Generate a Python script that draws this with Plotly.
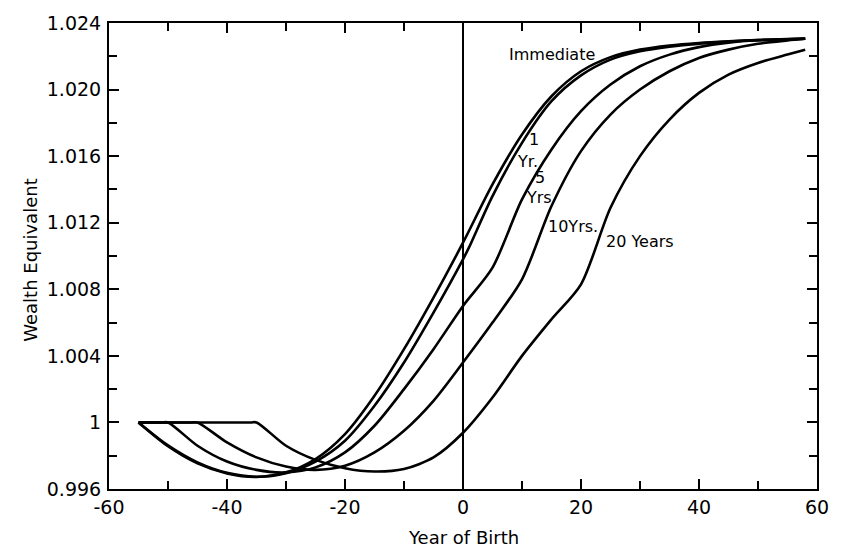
import plotly.graph_objects as go

# ---- data ----
imm_years = [-55, -50, -45, -40, -35, -30, -25, -20, -15, -10, -5, 0, 5, 10, 15, 20, 25, 30, 35, 40, 45, 50, 55, 58]
imm_vals = [1.0, 0.99857, 0.99754, 0.99693, 0.99672, 0.99700, 0.99780, 0.99930, 1.00160, 1.00440, 1.00750, 1.01080,
            1.01430, 1.01730, 1.01960, 1.02110, 1.02195, 1.02240, 1.02265, 1.02280, 1.02290, 1.02298, 1.02303, 1.02306]

y1_years = [-55, -50, -45, -40, -35, -30, -25, -20, -15, -10, -5, 0, 1, 5, 10, 15, 20, 25, 30, 35, 40, 45, 50, 55, 58]
y1_vals = [1.0, 0.99862, 0.99760, 0.99697, 0.99674, 0.99695, 0.99765, 0.99890, 1.00100, 1.00360, 1.00660, 1.00980,
           1.01050, 1.01360, 1.01680, 1.01930, 1.02085, 1.02180, 1.02230, 1.02258, 1.02275, 1.02288, 1.02297, 1.02302, 1.02305]

y5_years = [-55, -51, -50, -45, -40, -35, -30, -25, -20, -15, -10, -5, 0, 5, 10, 15, 20, 25, 30, 35, 40, 45, 50, 55, 58]
y5_vals = [1.0, 1.0, 1.0, 0.99860, 0.99765, 0.99715, 0.99700, 0.99730, 0.99820, 0.99980, 1.00200, 1.00440, 1.00700,
           1.00930, 1.01340, 1.01640, 1.01870, 1.02030, 1.02140, 1.02210, 1.02255, 1.02282, 1.02296, 1.02302, 1.02305]

y10_years = [-55, -46, -45, -40, -35, -30, -25, -20, -15, -10, -5, 0, 5, 10, 15, 20, 25, 30, 35, 40, 45, 50, 55, 58]
y10_vals = [1.0, 1.0, 1.0, 0.99880, 0.99790, 0.99735, 0.99715, 0.99740, 0.99820, 0.99950, 1.00130, 1.00360, 1.00600,
            1.00860, 1.01300, 1.01630, 1.01850, 1.02000, 1.02110, 1.02190, 1.02240, 1.02275, 1.02295, 1.02305]

y20_years = [-55, -36, -35, -30, -25, -20, -15, -10, -5, 0, 5, 10, 15, 20, 25, 30, 35, 40, 45, 50, 55, 58]
y20_vals = [1.0, 1.0, 1.0, 0.99860, 0.99775, 0.99725, 0.99705, 0.99720, 0.99790, 0.99938, 1.00150, 1.00400, 1.00620,
            1.00830, 1.01290, 1.01600, 1.01820, 1.01980, 1.02090, 1.02160, 1.02210, 1.02240]

series = [
    ("Immediate", imm_years, imm_vals),
    ("1 Yr.", y1_years, y1_vals),
    ("5 Yrs.", y5_years, y5_vals),
    ("10 Yrs.", y10_years, y10_vals),
    ("20 Years", y20_years, y20_vals),
]

y_tickvals = [0.996, 1.0, 1.004, 1.008, 1.012, 1.016, 1.020, 1.024]
y_ticktext = ["0.996", "1", "1.004", "1.008", "1.012", "1.016", "1.020", "1.024"]
x_tickvals = [-60, -40, -20, 0, 20, 40, 60]
x_ticktext = ["-60", "-40", "-20", "0", "20", "40", "60"]

# curve labels (text, x, y)
labels = [
    ("Immediate", 15.0, 1.0221),
    ("1", 12.0, 1.0170),
    ("Yr.", 11.0, 1.0157),
    ("5", 13.0, 1.0147),
    ("Yrs", 12.8, 1.0135),
    ("10Yrs.", 18.6, 1.0118),
    ("20 Years", 30.0, 1.0109),
]

FONT = "DejaVu Sans"

fig = go.Figure()
for name, xs, ys in series:
    fig.add_trace(go.Scatter(x=xs, y=ys, mode="lines", name=name,
                             line=dict(color="black", width=2.6, shape="spline", smoothing=0.8),
                             showlegend=False, hoverinfo="skip"))

# vertical reference line at year 0
fig.add_shape(type="line", x0=0, x1=0, y0=0.996, y1=1.024, xref="x", yref="y",
              line=dict(color="black", width=2))

for txt, x, y in labels:
    fig.add_annotation(x=x, y=y, text=txt, showarrow=False, xanchor="center", yanchor="middle",
                       font=dict(family=FONT, size=16, color="black"))

fig.add_annotation(x=0.5, y=-0.105, xref="paper", yref="paper", text="Year of Birth",
                   showarrow=False, xanchor="center", yanchor="middle",
                   font=dict(family=FONT, size=18, color="black"))
fig.add_annotation(x=-0.11, y=0.49, xref="paper", yref="paper", text="Wealth Equivalent",
                   showarrow=False, textangle=-90, xanchor="center", yanchor="middle",
                   font=dict(family=FONT, size=18, color="black"))

axis_common = dict(showline=True, linecolor="black", linewidth=2, mirror="ticks",
                   ticks="inside", ticklen=10, tickwidth=2, tickcolor="black",
                   showgrid=False, zeroline=False,
                   tickfont=dict(family=FONT, size=19, color="black"))

fig.update_xaxes(range=[-60, 60], tickvals=x_tickvals, ticktext=x_ticktext,
                 minor=dict(ticks="inside", dtick=10, tick0=0, ticklen=8, tickwidth=2, tickcolor="black", showgrid=False),
                 **axis_common)
fig.update_yaxes(range=[0.996, 1.024], tickvals=y_tickvals, ticktext=y_ticktext, ticklabelstandoff=2,
                 minor=dict(ticks="inside", dtick=0.002, tick0=0.996, ticklen=8, tickwidth=2, tickcolor="black", showgrid=False),
                 **axis_common)

fig.update_layout(width=850, height=551, margin=dict(l=109, r=33, t=14, b=62),
                  plot_bgcolor="white", paper_bgcolor="white")

fig.write_html("out.html")
